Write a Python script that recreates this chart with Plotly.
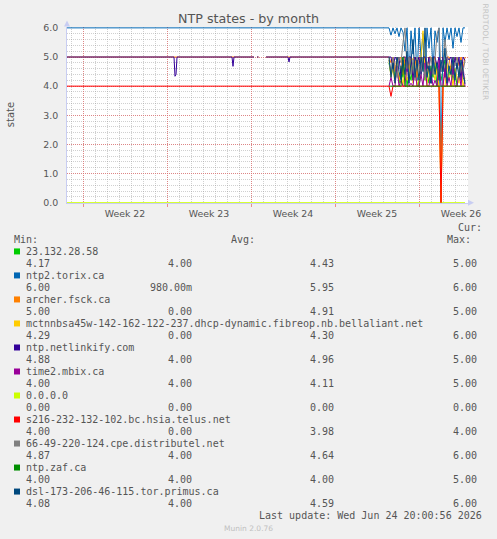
import plotly.graph_objects as go
import pandas as pd

# ------------------------------------------------------------------ data
SERIES_NAMES = [
    "23.132.28.58",
    "ntp2.torix.ca",
    "archer.fsck.ca",
    "mctnnbsa45w-142-162-122-237.dhcp-dynamic.fibreop.nb.bellaliant.net",
    "ntp.netlinkify.com",
    "time2.mbix.ca",
    "0.0.0.0",
    "s216-232-132-102.bc.hsia.telus.net",
    "66-49-220-124.cpe.distributel.net",
    "ntp.zaf.ca",
    "dsl-173-206-46-115.tor.primus.ca",
]
COLORS = ["#00CC00", "#0066B3", "#FF8000", "#FFCC00", "#330099", "#990099",
          "#CCFF00", "#FF0000", "#808080", "#008F00", "#00487D"]

CUR_VALS = ["4.17", "6.00", "5.00", "4.29", "4.88", "4.00", "0.00", "4.00", "4.87", "4.00", "4.08"]
MIN_VALS = ["4.00", "980.00m", "0.00", "0.00", "4.00", "4.00", "0.00", "0.00", "4.00", "4.00", "4.00"]
AVG_VALS = ["4.43", "5.95", "4.91", "4.30", "4.96", "4.11", "0.00", "3.98", "4.64", "4.00", "4.59"]
MAX_VALS = ["5.00", "6.00", "5.00", "6.00", "5.00", "5.00", "0.00", "4.00", "6.00", "5.00", "6.00"]

WEEK_LABELS = ["Week 22", "Week 23", "Week 24", "Week 25", "Week 26"]
WEEK_STARTS = ["2026-05-24", "2026-05-31", "2026-06-07", "2026-06-14", "2026-06-21"]
X_RANGE = ["2026-05-22 16:00", "2026-06-25 02:00"]
Y_TICKS = [0, 1, 2, 3, 4, 5, 6]

# month-long history (before the noisy final week)
torix_hist_t = ["2026-05-22 12:00"]
torix_hist_v = [6]
archer_hist_t = ["2026-05-22 12:00", "2026-06-07 06:00", "2026-06-07 08:00", "2026-06-07 12:00",
                 "2026-06-07 15:00", "2026-06-07 17:00", "2026-06-08 06:00"]
archer_hist_v = [5, 5, None, 5, 5, None, 5]
netlink_hist_t = ["2026-05-22 12:00", "2026-05-31 14:00", "2026-05-31 16:00", "2026-05-31 18:00",
                  "2026-05-31 20:00", "2026-06-05 10:00", "2026-06-05 12:00", "2026-06-05 14:00",
                  "2026-06-07 06:00", "2026-06-07 08:00", "2026-06-07 12:00", "2026-06-07 15:00",
                  "2026-06-07 17:00", "2026-06-08 06:00", "2026-06-10 02:00", "2026-06-10 04:00",
                  "2026-06-10 06:00"]
netlink_hist_v = [5, 5, 4.34, 4.4, 5, 5, 4.68, 5, 5, None, 5, 5, None, 5, 5, 4.83, 5]
zero_hist_t = ["2026-05-22 12:00", "2026-06-24 20:00"]
zero_hist_v = [0, 0]
telus_hist_t = ["2026-05-22 12:00"]
telus_hist_v = [4]

# final week, one sample every 4 hours from 2026-06-18 12:00
RECENT_START = "2026-06-18 12:00"
g23_recent = [4.8, 4.4, 4.9, 4.2, 4.6, 4.1, 4.7, 4.3, 4.9, 4.0, 4.5, 4.2, 4.8, 4.3, 4.6, 4.0, 4.4, 4.9, 4.2, 4.5,
              4.1, 4.7, 4.3, 4.8, 4.0, 4.6, 4.2, 4.5, 4.9, 4.1, 4.4, 4.7, 4.2, 4.6, 4.0, 4.5, 4.8, 4.3, 4.17]
torix_recent = [6, 5.75, 6, 5.8, 6, 5.7, 6, 5.85, 5.2, 6, 4.3, 5.9, 5.1, 6, 4.2, 6, 5.0, 5.8, 4.4, 6,
                5.3, 6, 4.5, 5.9, 5.5, 6, 0.98, 6, 5.5, 6, 5.6, 6, 5.3, 6, 5.7, 6, 5.5, 6, 6]
archer_recent = [5, 4.8, 5, 4.5, 5, 4.9, 5, 4.4, 5, 5, 4.6, 5, 4.9, 5, 4.3, 5, 5, 4.7, 5, 4.5,
                 5, 5, 4.8, 5, 4.4, 4, 0, 4, 4.6, 5, 5, 4.5, 5, 4.9, 5, 4.7, 5, 4.6, 5]
mct_recent = [4.9, 4.3, 4.6, 4.1, 4.8, 4.2, 4.5, 4.0, 4.7, 4.2, 4.4, 4.9, 4.1, 4.6, 4.0, 4.3, 5.0, 5.9, 4.5, 4.0,
              4.7, 4.3, 4.6, 4.2, 4.6, 4.0, 0, 4.0, 4.0, 4.8, 4.2, 4.5, 4.0, 4.6, 4.3, 4.1, 4.7, 4.0, 4.29]
netlink_recent = [5, 5, 4.6, 5, 4.9, 5, 4.3, 5, 5, 4.5, 5, 5, 4.2, 5, 4.8, 5, 4.4, 5, 5, 4.6,
                  5, 4.1, 5, 5, 4.7, 5, 4.5, 5, 4.3, 5, 4.9, 5, 4.4, 5, 4.6, 5, 4.2, 5, 4.88]
mbix_recent = [4, 4.3, 4, 4, 4.7, 4, 4.2, 4, 4, 4.9, 4, 4.1, 4, 4.6, 4, 4, 4.4, 4, 4.8, 4,
               4, 4.5, 4, 4.2, 4, 4.9, 4, 4, 4.6, 4, 4.3, 4, 4.8, 4, 4, 4.5, 4, 4.7, 4]
telus_recent = [4, 3.65, 4, 4, 4, 4, 4, 4, 4, 4, 4, 4, 4, 4, 4, 4, 4, 4, 4, 4,
                4, 4, 4, 4, 4, 4, 0, 4, 4, 4, 4, 4, 4, 4, 4, 4, 4, 4, 4]
distr_recent = [4.9, 4.5, 5.0, 4.7, 4.3, 5.0, 4.8, 5.5, 6.0, 4.6, 5.0, 4.4, 4.9, 4.2, 5.0, 4.7, 4.5, 5.0, 4.3, 4.8,
                4.6, 5.0, 4.4, 4.9, 5.8, 6.0, 4.5, 4.8, 5.6, 5.0, 4.6, 4.4, 4.9, 4.7, 5.0, 4.3, 4.8, 4.5, 4.87]
zaf_recent = [4, 4, 4, 4, 4, 4, 4, 5, 4, 4, 4, 4, 4, 4, 4, 4, 4, 4, 4, 4,
              4, 4, 4, 4, 4, 4, 4, 4, 4, 4, 4, 4, 4, 4, 4, 4, 4, 4, 4]
dsl_recent = [5.0, 4.3, 4.8, 4.1, 5.0, 4.5, 4.2, 4.9, 4.4, 5.2, 4.1, 4.8, 5.6, 4.3, 4.9, 4.2, 5.0, 4.5, 6.0, 4.3,
              4.7, 4.1, 5.0, 4.4, 4.8, 4.2, 4.9, 4.5, 5.3, 4.1, 4.7, 4.4, 5.0, 4.2, 4.8, 4.3, 4.9, 4.5, 4.08]

# ------------------------------------------------------------------ build
recent_t = list(pd.date_range(RECENT_START, periods=len(torix_recent), freq="4h"))

series_parts = [
    ([], [], g23_recent),
    (torix_hist_t, torix_hist_v, torix_recent),
    (archer_hist_t, archer_hist_v, archer_recent),
    ([], [], mct_recent),
    (netlink_hist_t, netlink_hist_v, netlink_recent),
    ([], [], mbix_recent),
    (zero_hist_t, zero_hist_v, None),
    (telus_hist_t, telus_hist_v, telus_recent),
    ([], [], distr_recent),
    ([], [], zaf_recent),
    ([], [], dsl_recent),
]

fig = go.Figure()
for name, color, (ht, hv, rec) in zip(SERIES_NAMES, COLORS, series_parts):
    xs = list(pd.to_datetime(ht)) if ht else []
    ys = list(hv)
    if rec is not None:
        xs += recent_t
        ys += rec
    fig.add_trace(go.Scatter(x=xs, y=ys, mode="lines", name=name,
                             line=dict(color=color, width=1), connectgaps=False,
                             showlegend=False, hoverinfo="skip"))

week_mids = [pd.Timestamp(w) + pd.Timedelta(hours=84) for w in WEEK_STARTS]
fig.add_trace(go.Scatter(x=week_mids, y=[None] * len(week_mids), xaxis="x2",
                         showlegend=False, hoverinfo="skip"))

# ------------------------------------------------------------------ layout
W, H = 497, 539
L, R, T, B = 67, 29, 27.4, 335.7
PW, PH = W - L - R, H - T - B


def px_x(x):
    return (x - L) / PW


def px_y(y):
    return (H - B - y) / PH


TXT = "#555555"
MONO = "DejaVu Sans Mono"
SANS = "DejaVu Sans"
MAJOR = "rgba(225,110,110,0.75)"
MINOR = "rgba(150,150,150,0.45)"

annotations = []
shapes = []


def note(text, x, y, anchor="left", size=10, family=MONO, color=TXT, angle=0):
    annotations.append(dict(text=text, x=px_x(x), y=px_y(y), xref="paper", yref="paper",
                            xanchor=anchor, yanchor="middle", showarrow=False,
                            textangle=angle, borderpad=0, borderwidth=0,
                            font=dict(family=family, size=size, color=color)))


note("Cur:", 482.3, 227.3, anchor="right")
note("Min:", 13.7, 239.5)
note("Avg:", 230.7, 239.5)
note("Max:", 446.7, 239.5)
for i, name in enumerate(SERIES_NAMES):
    yn = 251.7 + 24 * i
    yv = 263.5 + 24 * i
    shapes.append(dict(type="rect", xref="paper", yref="paper",
                       x0=px_x(14), x1=px_x(20), y0=px_y(yn + 3), y1=px_y(yn - 3),
                       fillcolor=COLORS[i], line=dict(width=0)))
    note(name, 26, yn)
    for val, xr in zip((CUR_VALS[i], MIN_VALS[i], AVG_VALS[i], MAX_VALS[i]),
                       (50, 192.3, 334.3, 476.7)):
        note(val, xr, yv, anchor="right")
note("Last update: Wed Jun 24 20:00:56 2026", 482.3, 515.3, anchor="right")
note("Munin 2.0.76", 248.5, 528.3, anchor="center", size=7.5, family=SANS, color="#c0c0c0")
note("RRDTOOL / TOBI OETIKER", 485, 53, anchor="center", size=7.5, family=SANS,
     color="#c4c4c4", angle=90)
note("state", 10, 115.5, anchor="center", size=10, family=SANS, color=TXT, angle=-90)

# axis arrows
ARROW = "#c8cdf2"


def path(points):
    return "M " + " L ".join(f"{px_x(a)},{px_y(b)}" for a, b in points) + " Z"


shapes.append(dict(type="path", xref="paper", yref="paper", path=path([(64, 27), (70, 27), (67, 21)]),
                   fillcolor=ARROW, line=dict(width=0)))
shapes.append(dict(type="path", xref="paper", yref="paper", path=path([(468, 200), (468, 206), (474, 203)]),
                   fillcolor=ARROW, line=dict(width=0)))

fig.update_layout(
    width=W, height=H,
    margin=dict(l=L, r=R, t=T, b=B, pad=0),
    paper_bgcolor="#F0F0F0", plot_bgcolor="#FFFFFF",
    title=dict(text="NTP states - by month", x=0.5, xref="container", xanchor="center",
               y=1 - 19 / H, yref="container", yanchor="middle",
               font=dict(family=SANS, size=12.7, color=TXT)),
    xaxis=dict(type="date", range=X_RANGE, tickvals=WEEK_STARTS, showticklabels=False,
               ticks="outside", ticklen=3, tickcolor=MAJOR,
               showgrid=True, gridcolor=MAJOR, griddash="1px,1px", gridwidth=1,
               minor=dict(dtick=86400000, tick0=WEEK_STARTS[0], showgrid=True,
                          gridcolor=MINOR, griddash="1px,1px", ticks=""),
               showline=True, linecolor=ARROW, zeroline=False),
    xaxis2=dict(type="date", range=X_RANGE, overlaying="x", anchor="y", side="bottom",
                tickvals=week_mids, ticktext=WEEK_LABELS, showgrid=False, showline=False,
                ticks="", zeroline=False, ticklabelstandoff=4,
                tickfont=dict(family=SANS, size=9.4, color=TXT)),
    yaxis=dict(range=[-0.01, 6.03], tickvals=Y_TICKS, tickformat=".1f",
               ticks="", showgrid=True, gridcolor=MAJOR, griddash="1px,1px", gridwidth=1,
               minor=dict(dtick=0.2, tick0=0, showgrid=True, gridcolor=MINOR,
                          griddash="1px,1px", ticks=""),
               showline=True, linecolor=ARROW, zeroline=False, ticklabelstandoff=6,
               tickfont=dict(family=SANS, size=9.4, color=TXT)),
    annotations=annotations, shapes=shapes,
)

fig.write_html("out.html", config={"displayModeBar": False},
               post_script="document.body.style.margin='0';document.body.style.overflow='hidden';"
                           "document.body.style.background='#F0F0F0';")
